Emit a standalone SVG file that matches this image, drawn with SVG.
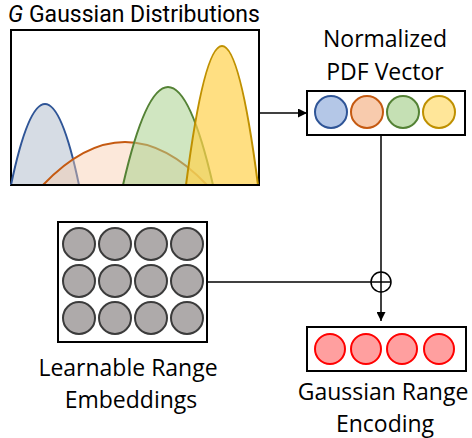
<svg xmlns="http://www.w3.org/2000/svg" width="472" height="438" viewBox="0 0 472 438">
<defs>
<style>
.t{font-family:"Open Sans","Liberation Sans",sans-serif;font-size:23px;fill:#000;text-anchor:middle}
.title{font-family:Roboto,"Liberation Sans",sans-serif;font-size:23px}
.box{fill:#fff;stroke:#000;stroke-width:2}
.ln{fill:none;stroke:#000;stroke-width:1.5}
.g{fill:#aeaaaa;stroke:#3b3b3b;stroke-width:2}
.r{fill:#ff9f9f;stroke:#ff0000;stroke-width:2}
</style>
<marker id="ah" viewBox="0 0 10 10" refX="10" refY="5" markerWidth="9" markerHeight="9" markerUnits="userSpaceOnUse" orient="auto">
<path d="M0,0 L10,5 L0,10 z" fill="#000"/>
</marker>
</defs>
<g id="gaussians">
<text class="t title" x="134" y="21.5"><tspan font-style="italic">G</tspan> Gaussian Distributions</text>
<rect class="box" x="11" y="30" width="248" height="155"/>
<path d="M11,185 Q45,23 79,185" fill="#adb9ca" fill-opacity="0.5" stroke="#2f5597" stroke-width="2"/>
<path d="M43,185 Q125,99 207,185" fill="#f8cbad" fill-opacity="0.45" stroke="#c55a11" stroke-width="2"/>
<path d="M123,185 Q168,-11 213,185" fill="#a9d18e" fill-opacity="0.55" stroke="#548235" stroke-width="2"/>
<path d="M186,185 Q222,-93 258,185" fill="#ffd24d" fill-opacity="0.7" stroke="#bf9000" stroke-width="2"/>
<line x1="11" y1="185" x2="259" y2="185" stroke="#000" stroke-width="2"/>
</g>
<g id="pdf">
<text class="t" x="385" y="47">Normalized</text>
<text class="t" x="385" y="80">PDF Vector</text>
<rect class="box" x="307" y="91" width="158" height="44"/>
<circle cx="331" cy="112" r="16" fill="#b4c7e7" stroke="#2f5597" stroke-width="2"/>
<circle cx="367" cy="112" r="16" fill="#f8cbad" stroke="#c55a11" stroke-width="2"/>
<circle cx="403" cy="112" r="16" fill="#c5e0b4" stroke="#548235" stroke-width="2"/>
<circle cx="439" cy="112" r="16" fill="#ffe699" stroke="#bf9000" stroke-width="2"/>
</g>
<g id="embeddings">
<rect class="box" x="58" y="222" width="149" height="120"/>
<circle class="g" cx="79" cy="244" r="16"/><circle class="g" cx="115" cy="244" r="16"/><circle class="g" cx="151" cy="244" r="16"/><circle class="g" cx="187" cy="244" r="16"/>
<circle class="g" cx="79" cy="281" r="16"/><circle class="g" cx="115" cy="281" r="16"/><circle class="g" cx="151" cy="281" r="16"/><circle class="g" cx="187" cy="281" r="16"/>
<circle class="g" cx="79" cy="318" r="16"/><circle class="g" cx="115" cy="318" r="16"/><circle class="g" cx="151" cy="318" r="16"/><circle class="g" cx="187" cy="318" r="16"/>
<text class="t" x="128" y="376">Learnable Range</text>
<text class="t" x="131" y="408">Embeddings</text>
</g>
<g id="encoding">
<rect class="box" x="307" y="327" width="159" height="44"/>
<circle class="r" cx="330" cy="349" r="15"/><circle class="r" cx="366" cy="349" r="15"/><circle class="r" cx="402" cy="349" r="15"/><circle class="r" cx="439" cy="349" r="15"/>
<text class="t" x="383" y="400">Gaussian Range</text>
<text class="t" x="385" y="432">Encoding</text>
</g>
<g id="connectors">
<line class="ln" x1="259" y1="113" x2="307" y2="113" marker-end="url(#ah)"/>
<line class="ln" x1="381" y1="135" x2="381" y2="321" marker-end="url(#ah)"/>
<line class="ln" x1="207" y1="282" x2="371" y2="282"/>
<circle cx="381" cy="282" r="10" fill="none" stroke="#000" stroke-width="1.5"/>
<line class="ln" x1="371" y1="282" x2="391" y2="282"/>
</g>
</svg>
